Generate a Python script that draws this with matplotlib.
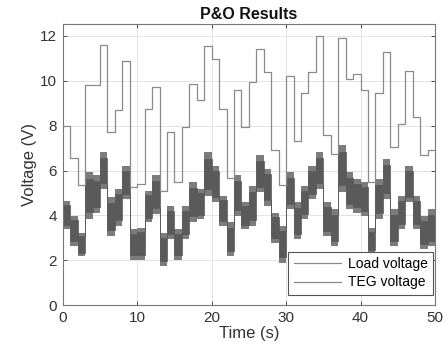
import matplotlib
matplotlib.use("Agg")
import matplotlib.pyplot as plt
from matplotlib.lines import Line2D
import numpy as np

plt.rcParams['font.family'] = ['Liberation Sans', 'DejaVu Sans']

# step times (s)
step_times = list(range(0, 51))

# Load voltage level in each 1-s interval (V)
load_voltage = [8.0, 6.56, 5.36, 9.79, 9.79, 11.6, 7.72, 8.7, 10.86, 5.28,
                5.4, 8.72, 9.72, 5.07, 7.71, 5.48, 7.93, 9.84, 9.15, 11.53,
                10.95, 8.75, 5.67, 9.6, 7.93, 9.94, 11.4, 10.38, 6.9, 5.36,
                10.2, 7.3, 9.46, 10.36, 12.0, 7.59, 6.74, 11.9, 10.09, 10.31,
                9.6, 5.5, 9.46, 11.25, 7.04, 8.08, 10.42, 8.38, 6.67, 6.92]

# TEG voltage band (noisy signal), upper and lower extremes per interval (V)
teg_high = [4.66, 3.99, 3.24, 5.93, 5.78, 6.82, 4.81, 5.18, 6.22, 3.39,
            3.46, 5.10, 5.78, 3.24, 4.43, 3.39, 4.43, 5.48, 5.18, 6.82,
            6.22, 4.88, 3.69, 5.78, 4.58, 5.33, 6.67, 6.07, 4.13, 3.54,
            5.93, 4.58, 5.33, 6.22, 6.82, 4.58, 4.28, 7.12, 5.93, 5.63,
            5.48, 3.46, 5.63, 6.52, 4.28, 4.88, 6.22, 4.88, 3.99, 4.28]
teg_low = [3.39, 2.64, 2.19, 3.84, 4.13, 5.18, 3.09, 3.54, 4.73, 2.04,
           2.04, 3.69, 4.06, 1.75, 2.94, 2.04, 2.94, 3.69, 3.84, 4.88,
           4.58, 3.54, 2.19, 3.99, 3.39, 3.54, 5.03, 4.43, 2.79, 1.90,
           4.28, 2.94, 3.84, 4.73, 5.18, 3.09, 2.64, 5.03, 4.28, 4.13,
           3.99, 2.27, 3.84, 4.73, 2.64, 3.39, 4.58, 3.39, 2.49, 2.64]

x_ticks = [0, 10, 20, 30, 40, 50]
y_ticks = [0, 2, 4, 6, 8, 10, 12]

fig = plt.figure(figsize=(4.48, 3.64), dpi=100)
ax = fig.add_axes([0.140, 0.161, 0.831, 0.772])

load_ext = np.array(load_voltage + [load_voltage[-1]])
hi_ext = np.array(teg_high + [teg_high[-1]])
lo_ext = np.array(teg_low + [teg_low[-1]])
span = hi_ext - lo_ext
core_hi = hi_ext - 0.15 * span
core_lo = lo_ext + 0.15 * span

line_col = '#8a8a8a'
band_col = '#5a5a5a'

ax.step(step_times, load_ext, where='post', color=line_col, lw=0.9, zorder=3)
# outer (spiky extremes) and dense core of the noisy TEG signal
ax.fill_between(step_times, lo_ext, hi_ext, step='post', color='#7c7c7c',
                lw=0, zorder=2)
ax.fill_between(step_times, core_lo, core_hi, step='post', color=band_col,
                lw=0.5, edgecolor=band_col, zorder=2.5)

ax.set_xlim(0, 50)
ax.set_ylim(0, 12.5)
ax.set_xticks(x_ticks)
ax.set_yticks(y_ticks)
ax.grid(True, color='#e3e3e3', lw=0.7, zorder=0)
ax.set_axisbelow(True)
ax.tick_params(direction='in', length=3, top=True, right=True,
               labelsize=11, colors='#333333', width=0.6, pad=4)
for s in ax.spines.values():
    s.set_color('#777777')
    s.set_linewidth(0.8)

ax.set_xlabel('Time (s)', fontsize=12, color='#333333', labelpad=1)
ax.set_ylabel('Voltage (V)', fontsize=12, color='#333333', labelpad=2)
ax.set_title('P&O Results', fontsize=11.5, fontweight='bold', color='#111111', pad=4)

handles = [Line2D([0], [0], color=line_col, lw=0.9),
           Line2D([0], [0], color=line_col, lw=0.9)]
leg = ax.legend(handles, ['Load voltage', 'TEG voltage'], loc='lower right',
                bbox_to_anchor=(0.995, 0.037), borderaxespad=0, fontsize=10,
                frameon=True, fancybox=False, handlelength=3.4,
                handletextpad=0.5, borderpad=0.4, labelspacing=0.3)
leg.get_frame().set_edgecolor('#555555')
leg.get_frame().set_linewidth(0.8)
leg.get_frame().set_alpha(1)
leg.set_zorder(5)

fig.savefig('out.png', dpi=100)
